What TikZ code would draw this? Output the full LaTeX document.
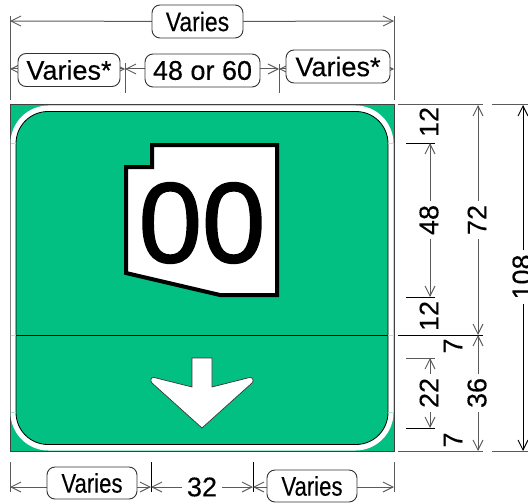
\documentclass[tikz,border=0pt]{standalone}
\usepackage{fontspec}
\setmainfont[FakeBold=0.25]{Liberation Sans}
\newfontfamily\heavyfont[FakeBold=1.4]{Liberation Sans}
\usetikzlibrary{arrows.meta}
\definecolor{signgreen}{RGB}{2,192,130}
\definecolor{dimgrey}{RGB}{90,90,90}
\pgfdeclarelayer{bg}
\pgfsetlayers{bg,main}
\tikzset{
  x=1pt,y=-1pt,
  lbl/.style={font=\fontsize{27}{27}\selectfont,inner sep=0pt,text=black},
  rlbl/.style={lbl,rotate=90,inner xsep=4pt},
  pill/.style={draw=black!80,line width=.9pt,fill=white,rounded corners=8pt,inner sep=0pt,
    font=\fontsize{27}{27}\selectfont,text=black},
  dimline/.style={draw=dimgrey,line width=1pt},
  dimarrow/.style={dimline,-{Straight Barb[length=10pt,width=10pt,line width=.9pt]}},
  blackdim/.style={draw=black,line width=.8pt},
  blackarrow/.style={blackdim,-{Straight Barb[length=10pt,width=10pt,line width=.9pt]}},
  faint/.style={draw=signgreen!35!white,line width=.5pt},
}
\begin{document}
\begin{tikzpicture}
\useasboundingbox (0,0) rectangle (528,503);
% sign
\path[fill=signgreen,draw=black!75,line width=1pt] (10,105) rectangle (394,451);
\path[fill=white] (48.5,105.5) -- (355.5,105.5) .. controls (376.5,105.5) and (393.5,122.5) .. (393.5,143.5)
  -- (393.5,412.5) .. controls (393.5,433.5) and (376.5,450.5) .. (355.5,450.5)
  -- (48.5,450.5) .. controls (27.5,450.5) and (10.5,433.5) .. (10.5,412.5)
  -- (10.5,143.5) .. controls (10.5,122.5) and (27.5,105.5) .. (48.5,105.5) -- cycle;
\path[fill=signgreen,draw=black,line width=.8pt] (48,111.5) -- (356,111.5) .. controls (373.7,111.5) and (388,125.8) .. (388,143.5)
  -- (388,412.5) .. controls (388,430.2) and (373.7,444.5) .. (356,444.5)
  -- (48,444.5) .. controls (30.3,444.5) and (16,430.2) .. (16,412.5)
  -- (16,143.5) .. controls (16,125.8) and (30.3,111.5) .. (48,111.5) -- cycle;
\foreach \xa/\xb/\yy in {10.5/16/143,388/393.5/143,10.5/16/412,388/393.5/412,10.5/16/335,388/393.5/335}
  \draw[faint] (\xa,\yy) -- (\xb,\yy);
\draw[black,line width=.8pt] (16,335) -- (388,335);
% shield
\path[fill=white,draw=black,line width=4pt,miter limit=4]
  (152,145) -- (277,145) -- (277,295) -- (220,295) -- (126,273) -- (126,167) -- (152,167) -- cycle;
\node[inner sep=0pt,font=\heavyfont\fontsize{114}{114}\selectfont,text=black] (num) at (202,223) {00};
% arrow
\path[fill=white,draw=black!80,line width=.7pt,rounded corners=.1pt]
  (192,358) -- (212,358) -- (212,387) -- (249.5,377.5)
  .. controls (253,377) and (254,381) .. (252,383) -- (202,428) -- (152,383)
  .. controls (150,381) and (150.5,377) .. (154,377.5) -- (192,387) -- cycle;
% boxes
\node[pill,minimum width=91pt,minimum height=33pt] (top) at (197.5,21.5) {\scalebox{.85}[1]{Varies}};
\node[pill,minimum width=102pt,minimum height=33pt] (vl) at (69,70) {Varies*};
\node[pill,minimum width=115pt,minimum height=33pt] (mid) at (202.5,70.5) {48 or 60};
\node[pill,minimum width=104pt,minimum height=33pt] (vr) at (338,66.5) {Varies*};
\node[pill,minimum width=90pt,minimum height=32pt] (bl) at (92,483) {\scalebox{.82}[1]{Varies}};
\node[pill,minimum width=90pt,minimum height=32pt] (br) at (312,486) {\scalebox{.82}[1]{Varies}};
\node[lbl,inner xsep=5pt] (thirtytwo) at (202,487) {32};
% right labels
\node[rlbl] (a12) at (429,122) {12};
\node[rlbl] (a48) at (429,220) {48};
\node[rlbl] (b12) at (429,316) {12};
\node[rlbl] (a7) at (453,346) {7};
\node[rlbl] (a22) at (429,393) {22};
\node[rlbl] (b7) at (453,440) {7};
\node[rlbl] (a72) at (477,220) {72};
\node[rlbl] (a36) at (477,393) {36};
\node[rlbl] (a108) at (522,277) {108};
% tick coordinates
\coordinate (tl) at (10,21);
\coordinate (tr) at (394,21);
\coordinate (m0) at (10,69);
\coordinate (m1) at (125,69);
\coordinate (m2) at (279,69);
\coordinate (m3) at (394,69);
\coordinate (b0) at (10,487);
\coordinate (b1) at (151,487);
\coordinate (b2) at (253,487);
\coordinate (b3) at (394,487);
\coordinate (c48t) at (430,143);
\coordinate (c48b) at (430,297);
\coordinate (c22t) at (430,358);
\coordinate (c22b) at (430,428);
\coordinate (c72t) at (478,105);
\coordinate (cmid) at (478,335);
\coordinate (c36b) at (478,451);
\coordinate (c108t) at (523,105);
\coordinate (c108b) at (523,451);
\begin{pgfonlayer}{bg}
% extension lines
\draw[dimline] (10,16) -- (10,100);
\draw[dimline] (394,16) -- (394,100);
\draw[dimline] (125,63) -- (125,93);
\draw[dimline] (279,64) -- (279,93);
\draw[dimline] (10,462) -- (10,492);
\draw[dimline] (394,462) -- (394,492);
\draw[blackdim] (151,462) -- (151,492);
\draw[blackdim] (253,462) -- (253,492);
\draw[dimline] (398,105) -- (483,105);
\draw[dimline] (492,105) -- (528,105);
\draw[blackdim] (406,143) -- (435,143);
\draw[blackdim] (406,297) -- (435,297);
\draw[blackdim] (398,335) -- (483,335);
\draw[dimline] (406,358) -- (435,358);
\draw[blackdim] (406,428) -- (435,428);
\draw[dimline] (398,451) -- (483,451);
\draw[dimline] (492,451) -- (528,451);
% horizontal dimensions
\draw[dimarrow] (top.center) -- (tl);
\draw[dimarrow] (top.center) -- (tr);
\draw[dimarrow] (vl.center |- m0) -- (m0);
\draw[dimarrow] (vl.center |- m1) -- (m1);
\draw[dimarrow] (mid.center |- m1) -- (m1);
\draw[dimarrow] (mid.center |- m2) -- (m2);
\draw[dimarrow] (vr.center |- m2) -- (m2);
\draw[dimarrow] (vr.center |- m3) -- (m3);
\draw[dimarrow] (bl.center |- b0) -- (b0);
\draw[dimarrow] (bl.center |- b1) -- (b1);
\draw[dimarrow] (thirtytwo.west) -- (b1);
\draw[dimarrow] (thirtytwo.east) -- (b2);
\draw[dimarrow] (br.center |- b2) -- (b2);
\draw[dimarrow] (br.center |- b3) -- (b3);
% vertical dimensions
\draw[dimarrow] (c48t |- a48.east) -- (c48t);
\draw[dimarrow] (c48b |- a48.west) -- (c48b);
\draw[dimarrow] (c22t |- a22.east) -- (c22t);
\draw[dimarrow] (c22b |- a22.west) -- (c22b);
\draw[dimarrow] (c72t |- a72.east) -- (c72t);
\draw[dimarrow] (cmid |- a72.west) -- (cmid);
\draw[dimarrow] (cmid |- a36.east) -- (cmid);
\draw[dimarrow] (c36b |- a36.west) -- (c36b);
\draw[blackarrow] (c108t |- a108.east) -- (c108t);
\draw[blackarrow] (c108b |- a108.west) -- (c108b);
\end{pgfonlayer}
\end{tikzpicture}
\end{document}
